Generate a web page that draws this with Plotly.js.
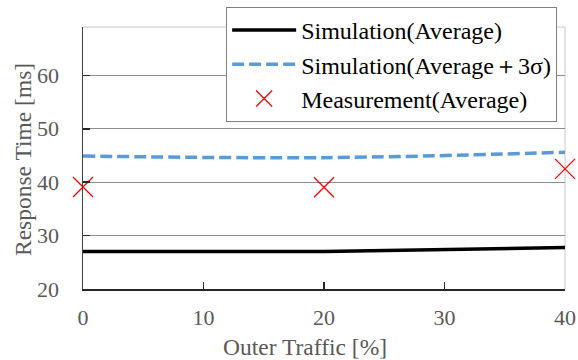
<!DOCTYPE html>
<html><head><meta charset="utf-8">
<script src="https://cdn.plot.ly/plotly-3.0.1.min.js"></script>
<style>html,body{margin:0;padding:0;background:#fff}#chart{width:578px;height:360px}</style>
</head><body><div id="chart"></div>
<script>
const traffic = [0, 20, 40];
const simAverage = [27.0, 27.0, 27.75];
const simAvg3Sigma = [44.9, 44.6, 45.6];
const measAverage = [39.1, 39.05, 42.5];
const seriesNames = ['Simulation(Average)', 'Simulation(Average\uFF0B3\u03C3)', 'Measurement(Average)'];
const xTickVals = [0, 10, 20, 30, 40];
const yTickVals = [20, 30, 40, 50, 60];
const xTitle = 'Outer Traffic [%]';
const yTitle = 'Response Time [ms]';

const serif = 'Liberation Serif';
const traces = [
  {x: traffic, y: simAverage, name: seriesNames[0], mode: 'lines', line: {color: '#000000', width: 3.5}},
  {x: traffic, y: simAvg3Sigma, name: seriesNames[1], mode: 'lines', line: {color: '#5b9bd5', width: 3.5, dash: '12px,5px', shape: 'spline'}},
  {x: traffic, y: measAverage, name: seriesNames[2], mode: 'markers', cliponaxis: false, marker: {symbol: 'x-thin-open', size: 20, color: '#ff0000', line: {color: '#ff0000', width: 1.3}}}
];
const layout = {
  width: 578, height: 360,
  margin: {l: 83, r: 12.5, t: 27, b: 71.3, autoexpand: false},
  paper_bgcolor: '#ffffff', plot_bgcolor: 'rgba(0,0,0,0)',
  font: {family: serif, color: '#595959', size: 22},
  showlegend: true,
  legend: {x: 0.297, y: 1.0764, xanchor: 'left', yanchor: 'top', bgcolor: '#ffffff', bordercolor: '#808080', borderwidth: 1,
           font: {family: serif, size: 24, color: '#000000'}, itemwidth: 64},
  xaxis: {range: [0, 40], tickvals: xTickVals, showgrid: false, zeroline: false, showline: true, linecolor: '#262626', linewidth: 1.5,
          ticks: 'inside', ticklen: 7, tickcolor: '#262626', tickwidth: 1.5, ticklabelstandoff: 8, tickfont: {family: serif, size: 22, color: '#595959'}},
  yaxis: {range: [20, 69.06], tickvals: yTickVals, showgrid: true, gridcolor: '#8c8c8c', gridwidth: 1, zeroline: false, showline: true, linecolor: '#404040', linewidth: 1.5,
          ticks: 'inside', ticklen: 7, tickcolor: '#262626', tickwidth: 1.5, ticklabelstandoff: 18, tickfont: {family: serif, size: 22, color: '#595959'}},
  shapes: [
    {type: 'line', xref: 'paper', yref: 'paper', x0: 0, x1: 1, y0: 1, y1: 1, line: {color: '#c8c8c8', width: 1}, layer: 'below'},
    {type: 'line', xref: 'paper', yref: 'paper', x0: 1, x1: 1, y0: 0, y1: 1, line: {color: '#c8c8c8', width: 1}, layer: 'below'}
  ],
  annotations: [
    {text: xTitle, xref: 'paper', yref: 'paper', x: 0.4604, y: -0.2228, xanchor: 'center', yanchor: 'middle', showarrow: false, font: {family: serif, size: 23.5, color: '#595959'}},
    {text: yTitle, xref: 'paper', yref: 'paper', x: -0.1247, y: 0.4956, xanchor: 'center', yanchor: 'middle', textangle: -90, showarrow: false, font: {family: serif, size: 23.5, color: '#595959'}}
  ]
};
Plotly.newPlot('chart', traces, layout, {displayModeBar: false, staticPlot: true});
</script></body></html>
